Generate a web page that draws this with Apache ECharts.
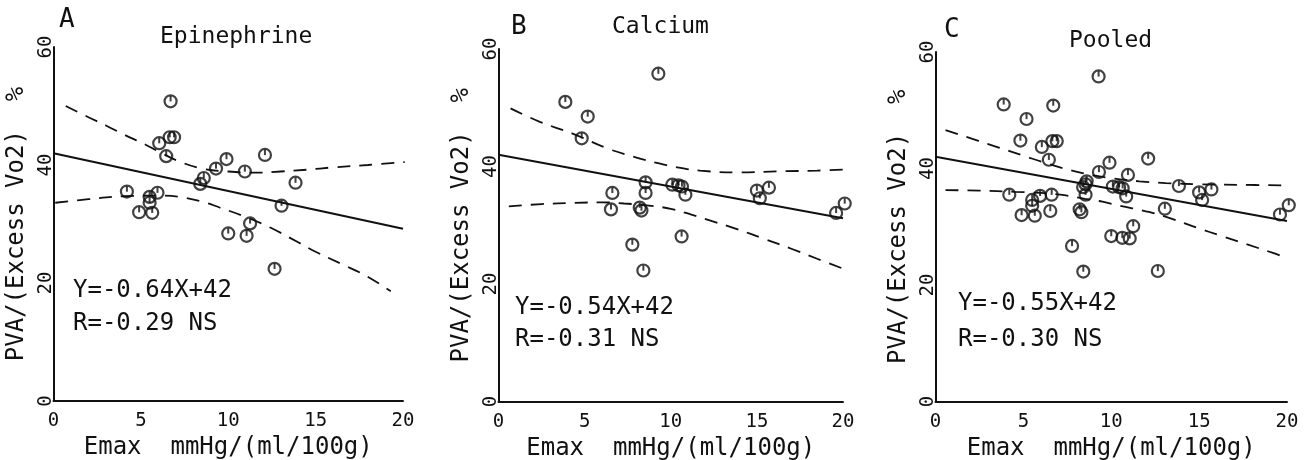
<!DOCTYPE html>
<html>
<head>
<meta charset="utf-8">
<script src="https://cdn.jsdelivr.net/npm/echarts@6/dist/echarts.min.js"></script>
<style>
html,body{margin:0;padding:0;background:#fff;}
#chart{width:1308px;height:460px;}
</style>
</head>
<body>
<div id="chart"></div>
<script>
// ---------- data ----------
const panelLetters = ['A', 'B', 'C'];
const panelTitles = ['Epinephrine', 'Calcium', 'Pooled'];
const equations = ['Y=-0.64X+42', 'Y=-0.54X+42', 'Y=-0.55X+42'];
const correlations = ['R=-0.29 NS', 'R=-0.31 NS', 'R=-0.30 NS'];
const xTicks = [0, 5, 10, 15, 20];
const yTicks = [0, 20, 40, 60];
const xAxisName = 'Emax  mmHg/(ml/100g)';
const yAxisName = 'PVA/(Excess Vo2)  %';

// Panel A: epinephrine
const epiX = [4.2, 4.9, 5.5, 5.5, 5.65, 5.95, 6.05, 6.45, 6.65, 6.9, 6.7, 8.4, 8.6, 9.3, 9.9, 10.0, 10.95, 11.05, 11.25, 12.1, 12.65, 13.05, 13.85];
const epiY = [35.5, 32.0, 34.6, 33.6, 31.9, 35.3, 43.7, 41.5, 44.7, 44.7, 50.8, 36.8, 37.8, 39.4, 41.0, 28.4, 38.9, 28.0, 30.1, 41.7, 22.4, 33.1, 37.0];
// Panel B: calcium
const calX = [3.88, 4.83, 5.18, 6.53, 6.61, 7.77, 8.2, 8.3, 8.41, 8.54, 8.54, 9.28, 10.09, 10.45, 10.65, 10.63, 10.85, 15.0, 15.17, 15.7, 19.6, 20.1];
const calY = [51.0, 44.8, 48.5, 32.7, 35.5, 26.7, 33.0, 32.5, 22.3, 37.3, 35.5, 55.8, 36.9, 36.8, 36.6, 28.1, 35.2, 35.9, 34.6, 36.4, 32.1, 33.7];

// regression lines (end points)
const regA = [[0, 42], [20, 29.2]];
const regB = [[0, 42], [20, 31.2]];
const regC = [[0, 42], [20, 31.0]];

// confidence bands (dashed)
const upAX = [0.7, 2, 3, 4, 5.3, 6, 7.2, 8.5, 10, 11.5, 13, 14.5, 16, 18, 20.1];
const upAY = [50.0, 48.1, 46.7, 45.2, 43.4, 42.3, 40.6, 39.4, 38.9, 38.7, 38.9, 39.2, 39.6, 40.0, 40.5];
const loAX = [0.1, 2, 4, 6, 7.2, 8.5, 9.5, 11, 12.4, 14, 15, 16.5, 17.9, 19.3];
const loAY = [33.6, 34.2, 34.7, 34.8, 34.6, 33.8, 32.8, 31.2, 29.4, 26.9, 25.3, 23.2, 21.2, 18.6];

const upBX = [0.7, 2.4, 4.3, 6.3, 7.8, 9.2, 10.3, 11.7, 13.8, 16.7, 18.5, 20.1];
const upBY = [49.9, 47.6, 45.6, 43.1, 41.7, 40.6, 39.9, 39.3, 39.0, 39.2, 39.3, 39.5];
const loBX = [0.6, 2.5, 4.4, 6, 7.3, 8.6, 10, 11.2, 12.4, 13.8, 15.4, 17, 18.5, 20.1];
const loBY = [33.2, 33.6, 33.8, 33.9, 33.7, 33.4, 32.8, 31.8, 30.7, 29.4, 27.7, 26.0, 24.3, 22.5];

const upCX = [0.57, 2.4, 3.6, 5, 6.3, 7.7, 9, 10.1, 11.6, 13.1, 15, 17.3, 20];
const upCY = [46.6, 44.8, 43.6, 42.2, 40.9, 39.7, 38.8, 38.3, 37.8, 37.5, 37.3, 37.2, 37.1];
const loCX = [0.57, 2.5, 4.5, 6, 7.1, 8.5, 9.5, 10.5, 12.2, 13.5, 14.9, 16.2, 17.7, 19.2, 20];
const loCY = [36.3, 36.2, 36.0, 35.8, 35.5, 34.8, 34.3, 33.6, 32.5, 31.3, 29.8, 28.5, 27.0, 25.5, 24.6];

// ---------- build ----------
const zip = (xs, ys) => xs.map((x, i) => [x, ys[i]]);
const ptsA = zip(epiX, epiY);
const ptsB = zip(calX, calY);
const ptsC = ptsA.concat(ptsB); // pooled = both groups

const panels = [
  { pts: ptsA, reg: regA, up: zip(upAX, upAY), lo: zip(loAX, loAY),
    grid: { left: 53.5, top: 47, width: 349.5, height: 354 },
    letter: { left: 59, top: 7 }, title: { left: 160, top: 26 },
    eq: { left: 73, top: 279 }, r: { left: 73, top: 312 } },
  { pts: ptsB, reg: regB, up: zip(upBX, upBY), lo: zip(loBX, loBY),
    grid: { left: 498.5, top: 49, width: 344.5, height: 352.5 },
    letter: { left: 511, top: 14 }, title: { left: 612, top: 16 },
    eq: { left: 515, top: 296 }, r: { left: 515, top: 328 } },
  { pts: ptsC, reg: regC, up: zip(upCX, upCY), lo: zip(loCX, loCY),
    grid: { left: 935.5, top: 52, width: 351.5, height: 349.5 },
    letter: { left: 944, top: 17 }, title: { left: 1069, top: 30 },
    eq: { left: 958, top: 292 }, r: { left: 958, top: 328 } }
];

const FONT = 'DejaVu Sans Mono';
const ink = '#111';

const grids = [], xAxes = [], yAxes = [], series = [], titles = [];
panels.forEach((p, i) => {
  grids.push(Object.assign({ containLabel: false, outerBoundsMode: 'none' }, p.grid));
  xAxes.push({
    type: 'value', gridIndex: i, min: xTicks[0], max: xTicks[xTicks.length - 1],
    interval: xTicks[1] - xTicks[0],
    splitLine: { show: false }, axisTick: { show: false },
    axisLine: { show: true, onZero: false, lineStyle: { color: ink, width: 2 } },
    axisLabel: { color: ink, fontFamily: FONT, fontSize: 19, margin: 11, showMinLabel: true, showMaxLabel: true },
    name: xAxisName, nameLocation: 'middle', nameGap: 35,
    nameTextStyle: { color: ink, fontFamily: FONT, fontSize: 24 }
  });
  yAxes.push({
    type: 'value', gridIndex: i, min: yTicks[0], max: yTicks[yTicks.length - 1],
    interval: yTicks[1] - yTicks[0],
    splitLine: { show: false }, axisTick: { show: false },
    axisLine: { show: true, onZero: false, lineStyle: { color: ink, width: 2 } },
    axisLabel: { color: ink, fontFamily: FONT, fontSize: 19, rotate: 90, margin: -2, showMinLabel: true, showMaxLabel: true },
    name: yAxisName, nameLocation: 'middle', nameGap: 25, nameRotate: 90,
    nameTextStyle: { color: ink, fontFamily: FONT, fontSize: 24 }
  });
  // dashed bands
  [p.up, p.lo].forEach(d => series.push({
    type: 'line', xAxisIndex: i, yAxisIndex: i, data: d, smooth: 0.4,
    symbol: 'none', silent: true, clip: false,
    lineStyle: { color: ink, width: 1.8, type: [13, 9] }, z: 2
  }));
  // regression line
  series.push({
    type: 'line', xAxisIndex: i, yAxisIndex: i, data: p.reg,
    symbol: 'none', silent: true, clip: false, lineStyle: { color: ink, width: 2 }, z: 2
  });
  // ring markers
  series.push({
    type: 'scatter', xAxisIndex: i, yAxisIndex: i, data: p.pts, clip: false,
    symbol: 'circle', symbolSize: 12, silent: true,
    itemStyle: { color: 'rgba(255,255,255,0)', borderColor: ink, borderWidth: 2.2 }, z: 3
  });
  // inner stroke of the plotter symbol
  series.push({
    type: 'scatter', xAxisIndex: i, yAxisIndex: i, data: p.pts, clip: false,
    symbol: 'rect', symbolSize: [2, 5.5], symbolOffset: [0, -2.6], silent: true,
    itemStyle: { color: ink }, z: 3
  });
  const ts = (fs) => ({ color: ink, fontFamily: FONT, fontSize: fs, fontWeight: 'normal' });
  titles.push({ text: panelLetters[i], left: p.letter.left, top: p.letter.top, padding: 0, textStyle: ts(26) });
  titles.push({ text: panelTitles[i], left: p.title.left, top: p.title.top, padding: 0, textStyle: ts(23) });
  titles.push({ text: equations[i], left: p.eq.left, top: p.eq.top, padding: 0, textStyle: ts(24) });
  titles.push({ text: correlations[i], left: p.r.left, top: p.r.top, padding: 0, textStyle: ts(24) });
});

const chart = echarts.init(document.getElementById('chart'), null, { renderer: 'canvas' });
chart.setOption({
  backgroundColor: '#fff',
  animation: false,
  title: titles,
  grid: grids,
  xAxis: xAxes,
  yAxis: yAxes,
  series: series
});
</script>
</body>
</html>
